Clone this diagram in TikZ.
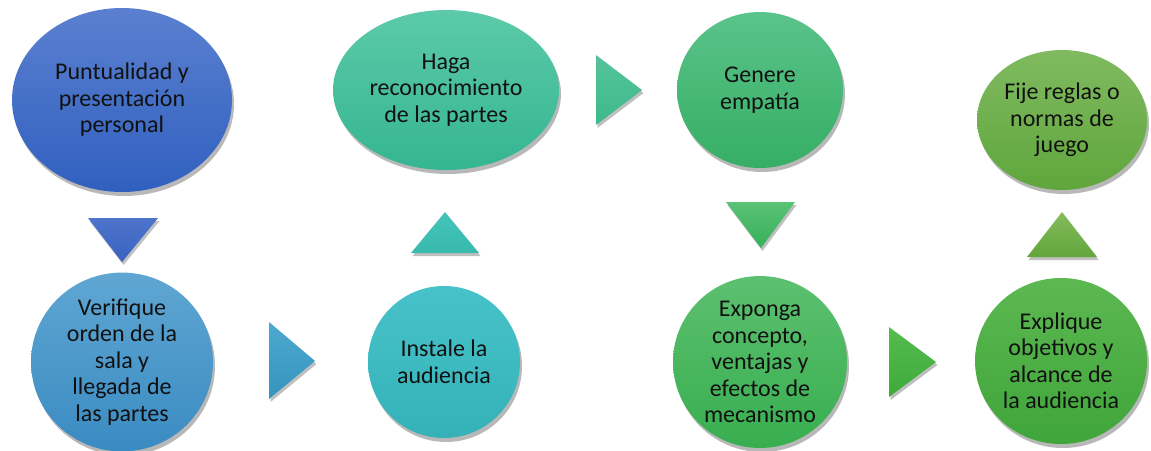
\documentclass[tikz,border=0pt]{standalone}
\usepackage{fontspec}
\setmainfont{Carlito}
\usetikzlibrary{shapes.geometric,shadows}
\definecolor{cAt}{HTML}{5B80D0}\definecolor{cAb}{HTML}{3060BF}
\definecolor{cBt}{HTML}{5FA6D2}\definecolor{cBb}{HTML}{3A8BC2}
\definecolor{cCt}{HTML}{48C2CA}\definecolor{cCb}{HTML}{34B2B8}
\definecolor{cDt}{HTML}{5CCAA8}\definecolor{cDb}{HTML}{35B592}
\definecolor{cEt}{HTML}{5AC38A}\definecolor{cEb}{HTML}{36AE64}
\definecolor{cFt}{HTML}{5CC070}\definecolor{cFb}{HTML}{38AE4F}
\definecolor{cGt}{HTML}{5DB852}\definecolor{cGb}{HTML}{3FA53A}
\definecolor{cHt}{HTML}{80BA60}\definecolor{cHb}{HTML}{5FA63C}
\definecolor{tAt}{HTML}{4E74CC}\definecolor{tAb}{HTML}{3A62BE}
\definecolor{tBt}{HTML}{4DA8CE}\definecolor{tBb}{HTML}{3595BE}
\definecolor{tCt}{HTML}{45C4BA}\definecolor{tCb}{HTML}{38BAAE}
\definecolor{tDt}{HTML}{55C39B}\definecolor{tDb}{HTML}{3DB98C}
\definecolor{tEt}{HTML}{5AC275}\definecolor{tEb}{HTML}{35B05A}
\definecolor{tFt}{HTML}{55BC4E}\definecolor{tFb}{HTML}{3EAA3C}
\definecolor{tGt}{HTML}{84BC5C}\definecolor{tGb}{HTML}{62A53C}
\definecolor{txt}{HTML}{111111}
\tikzset{
  stepnode/.style={ellipse, inner sep=0pt, align=center, text=txt,
    font=\fontsize{24}{26.5}\selectfont,
    drop shadow={shadow xshift=2pt, shadow yshift=-4pt, opacity=0.28, fill=black}},
  arrowtri/.style={drop shadow={shadow xshift=1.5pt, shadow yshift=-3pt, opacity=0.25, fill=black}}
}
\begin{document}
\begin{tikzpicture}[x=1pt,y=-1pt]
\useasboundingbox (0,0) rectangle (1151,450);
% nodes
\node[stepnode, top color=cAt, bottom color=cAb, minimum width=220pt, minimum height=184pt] (n1) at (122,100) {Puntualidad y\\presentación\\personal};
\node[stepnode, top color=cBt, bottom color=cBb, minimum width=182pt, minimum height=150pt] (n2) at (122,362) {Verifique\\orden de la\\sala y\\llegada de\\las partes};
\node[stepnode, top color=cCt, bottom color=cCb, minimum width=152pt, minimum height=152pt] (n3) at (444,362) {Instale la\\audiencia};
\node[stepnode, top color=cDt, bottom color=cDb, minimum width=226pt, minimum height=160pt] (n4) at (446,90) {Haga\\reconocimiento\\de las partes};
\node[stepnode, top color=cEt, bottom color=cEb, minimum width=166pt, minimum height=156pt] (n5) at (760,90) {Genere\\empatía};
\node[stepnode, top color=cFt, bottom color=cFb, minimum width=174pt, minimum height=166pt] (n6) at (760,362) {Exponga\\concepto,\\ventajas y\\efectos de\\mecanismo};
\node[stepnode, top color=cGt, bottom color=cGb, minimum width=172pt, minimum height=166pt] (n7) at (1061,361) {Explique\\objetivos y\\alcance de\\la audiencia};
\node[stepnode, top color=cHt, bottom color=cHb, minimum width=170pt, minimum height=140pt] (n8) at (1062,120) {Fije reglas o\\normas de\\juego};
% arrow triangles
\path[arrowtri, top color=tAt, bottom color=tAb] (88,218) -- (158,218) -- (122,262) -- cycle;
\path[arrowtri, top color=tBt, bottom color=tBb] (269,322) -- (315,361) -- (269,399) -- cycle;
\path[arrowtri, top color=tCt, bottom color=tCb] (445,212) -- (479,253) -- (411,253) -- cycle;
\path[arrowtri, top color=tDt, bottom color=tDb] (596,55) -- (642,90) -- (596,125) -- cycle;
\path[arrowtri, top color=tEt, bottom color=tEb] (726,202) -- (795,202) -- (761,248) -- cycle;
\path[arrowtri, top color=tFt, bottom color=tFb] (889,327) -- (936,362) -- (889,397) -- cycle;
\path[arrowtri, top color=tGt, bottom color=tGb] (1062,212) -- (1097,257) -- (1027,257) -- cycle;
\end{tikzpicture}
\end{document}
